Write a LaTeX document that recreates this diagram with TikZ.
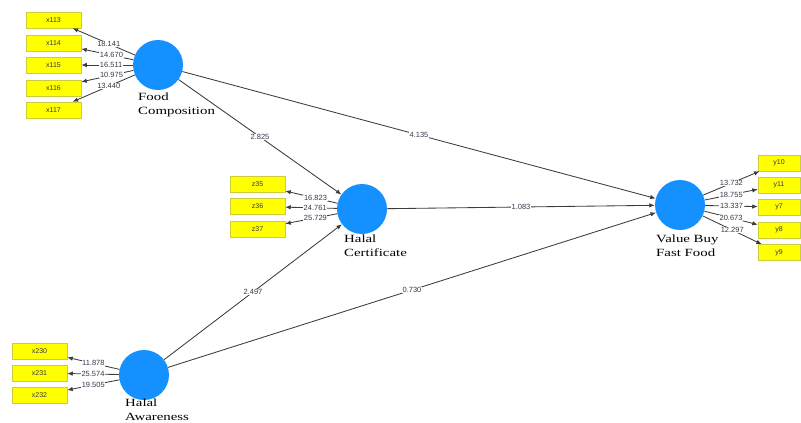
\documentclass[tikz,border=0pt]{standalone}
\usepackage{fontspec}
\setmainfont{Liberation Sans}
\newfontfamily\labfont[FakeStretch=1.35]{Liberation Serif}
\usetikzlibrary{arrows.meta}
\definecolor{lvblue}{RGB}{20,145,255}
\definecolor{indfill}{RGB}{255,255,0}
\definecolor{inddraw}{RGB}{205,205,60}
\definecolor{pathcol}{RGB}{60,60,60}
\definecolor{numcol}{RGB}{55,55,75}
\begin{document}
\begin{tikzpicture}[x=1pt,y=-1pt,
  lv/.style={circle, fill=lvblue, minimum size=50pt, inner sep=0pt},
  ind/.style={rectangle, fill=indfill, draw=inddraw, line width=0.5pt, minimum width=55pt, minimum height=16pt, inner sep=0pt, font=\fontsize{7}{8}\selectfont, text=numcol},
  indr/.style={ind, minimum width=42pt},
  pth/.style={draw=pathcol, line width=0.85pt, -{Latex[length=5.5pt,width=4.5pt]}},
  num/.style={fill=white, inner sep=0.6pt, font=\fontsize{7.5}{8}\selectfont, text=numcol},
  lvlab/.style={anchor=north west, align=left, inner sep=0pt, font=\labfont\fontsize{11}{14}\selectfont}]
\useasboundingbox (0,0) rectangle (801,423);
% latent variables
\node[lv] (fc) at (158,65) {};
\node[lv] (hc) at (362,209) {};
\node[lv] (ha) at (144,375) {};
\node[lv] (vb) at (680,205) {};
\node[lvlab] (fcl) at (138,93) {Food\\Composition};
\node[lvlab] (hcl) at (344,235) {Halal\\Certificate};
\node[lvlab] (hal) at (125,399) {Halal\\Awareness};
\node[lvlab] (vbl) at (656,235) {Value Buy\\Fast Food};
% indicators
\node[ind] (x113) at (53.5,20) {x113};
\node[ind] (x114) at (53.5,43) {x114};
\node[ind] (x115) at (53.5,65) {x115};
\node[ind] (x116) at (53.5,88) {x116};
\node[ind] (x117) at (53.5,110) {x117};
\node[ind] (z35) at (257.5,184.5) {z35};
\node[ind] (z36) at (257.5,206.5) {z36};
\node[ind] (z37) at (257.5,229) {z37};
\node[ind] (x230) at (39.5,351) {x230};
\node[ind] (x231) at (39.5,373) {x231};
\node[ind] (x232) at (39.5,395.5) {x232};
\node[indr] (y10) at (779,163) {y10};
\node[indr] (y11) at (779,185) {y11};
\node[indr] (y7) at (779,207) {y7};
\node[indr] (y8) at (779,230) {y8};
\node[indr] (y9) at (779,252.5) {y9};
% loadings
\draw[pth] (fc) -- node[num,pos=0.42]{18.141} (x113);
\draw[pth] (fc) -- node[num,pos=0.42]{14.670} (x114);
\draw[pth] (fc) -- node[num,pos=0.42]{16.511} (x115);
\draw[pth] (fc) -- node[num,pos=0.42]{10.975} (x116);
\draw[pth] (fc) -- node[num,pos=0.42]{13.440} (x117);
\draw[pth] (hc) -- node[num,pos=0.42]{16.823} (z35);
\draw[pth] (hc) -- node[num,pos=0.42]{24.761} (z36);
\draw[pth] (hc) -- node[num,pos=0.42]{25.729} (z37);
\draw[pth] (ha) -- node[num,pos=0.5]{11.878} (x230);
\draw[pth] (ha) -- node[num,pos=0.5]{25.574} (x231);
\draw[pth] (ha) -- node[num,pos=0.5]{19.505} (x232);
\draw[pth] (vb) -- node[num,pos=0.5]{13.732} (y10);
\draw[pth] (vb) -- node[num,pos=0.5]{18.755} (y11);
\draw[pth] (vb) -- node[num,pos=0.5]{13.337} (y7);
\draw[pth] (vb) -- node[num,pos=0.5]{20.673} (y8);
\draw[pth] (vb) -- node[num,pos=0.5]{12.297} (y9);
% structural paths
\draw[pth] (fc) -- node[num]{4.135} (vb);
\draw[pth] (fc) -- node[num]{2.825} (hc);
\draw[pth] (hc) -- node[num]{1.083} (vb);
\draw[pth] (ha) -- node[num]{2.497} (hc);
\draw[pth] (ha) -- node[num]{0.730} (vb);
\end{tikzpicture}
\end{document}
